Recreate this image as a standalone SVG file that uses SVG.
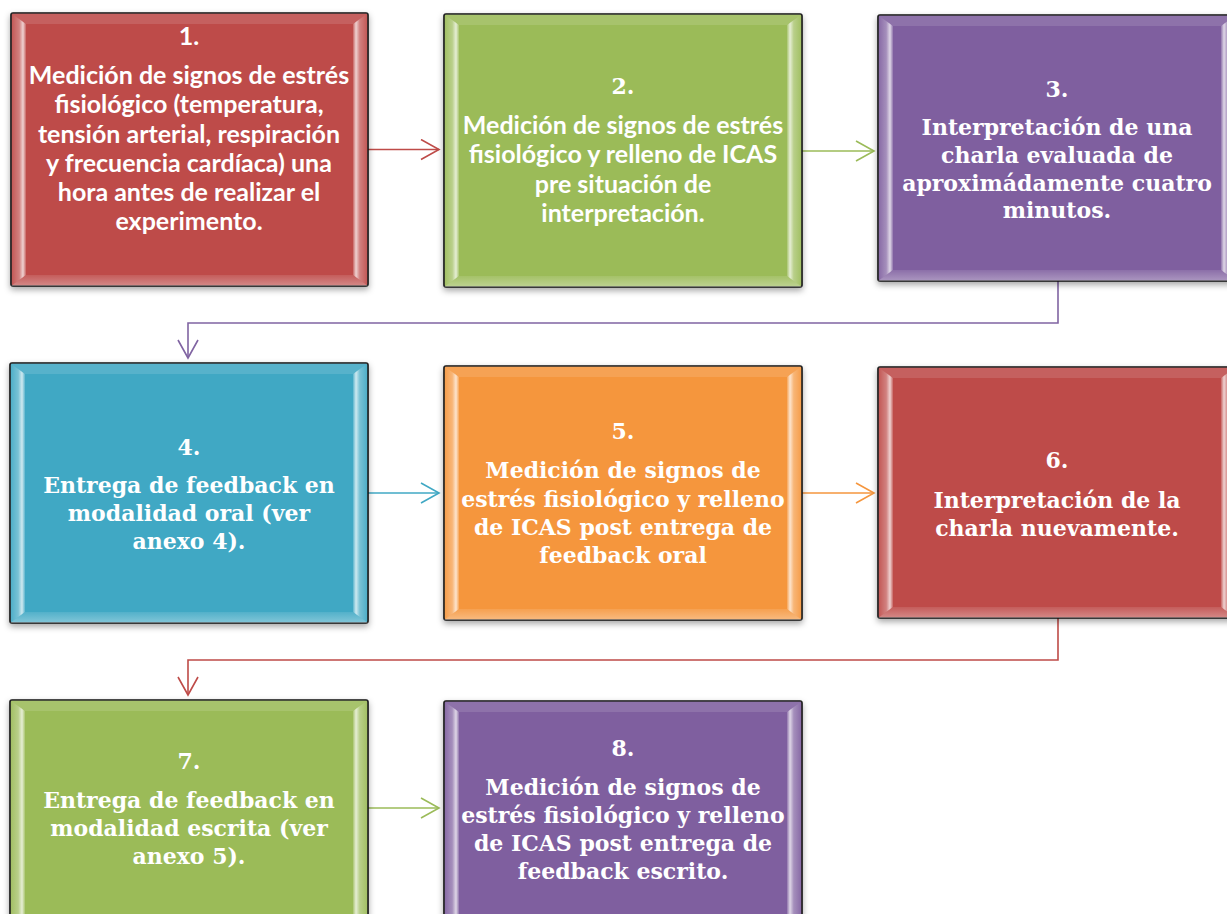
<svg xmlns="http://www.w3.org/2000/svg" width="1227" height="914" viewBox="0 0 1227 914">
<defs>
<style>
.bg{stroke:#111;stroke-width:1.6}
.lf{fill:url(#gl)}
.rf{fill:url(#gr)}
.tf{fill:#fff;fill-opacity:0.12}
.bf{fill:url(#gb)}
.sans{font-family:Lato,"Liberation Sans",sans-serif;font-weight:bold;font-size:25px;fill:#fff;text-anchor:middle}
.serif{font-family:"DejaVu Serif","Liberation Serif",serif;font-weight:bold;font-size:22px;fill:#fff;text-anchor:middle}
.con{fill:none;stroke-width:1.6}
.red{fill:#BE4B48}.green{fill:#9BBB59}.purple{fill:#7F5F9F}.blue{fill:#40A8C4}.orange{fill:#F5963E}
</style>
<linearGradient id="gl" x1="0" y1="0" x2="1" y2="0">
<stop offset="0" stop-color="#fff" stop-opacity="0.05"/>
<stop offset="0.55" stop-color="#fff" stop-opacity="0.3"/>
<stop offset="0.8" stop-color="#fff" stop-opacity="0.75"/>
<stop offset="1" stop-color="#fff" stop-opacity="0.15"/>
</linearGradient>
<linearGradient id="gr" x1="1" y1="0" x2="0" y2="0">
<stop offset="0" stop-color="#fff" stop-opacity="0.05"/>
<stop offset="0.55" stop-color="#fff" stop-opacity="0.3"/>
<stop offset="0.8" stop-color="#fff" stop-opacity="0.75"/>
<stop offset="1" stop-color="#fff" stop-opacity="0.15"/>
</linearGradient>
<linearGradient id="gb" x1="0" y1="0" x2="0" y2="1">
<stop offset="0" stop-color="#fff" stop-opacity="0.1"/>
<stop offset="1" stop-color="#fff" stop-opacity="0.35"/>
</linearGradient>
<filter id="sh" x="-5%" y="-5%" width="110%" height="115%">
<feDropShadow dx="0" dy="3" stdDeviation="3" flood-color="#000" flood-opacity="0.35"/>
</filter>
<marker id="mRed" markerUnits="userSpaceOnUse" markerWidth="22" markerHeight="24" refX="19" refY="11" orient="auto"><path d="M1,1 L19,11 L1,21" fill="none" stroke="#BE4B48" stroke-width="1.6"/></marker>
<marker id="mGreen" markerUnits="userSpaceOnUse" markerWidth="22" markerHeight="24" refX="19" refY="11" orient="auto"><path d="M1,1 L19,11 L1,21" fill="none" stroke="#9BBB59" stroke-width="1.6"/></marker>
<marker id="mPurple" markerUnits="userSpaceOnUse" markerWidth="22" markerHeight="24" refX="19" refY="11" orient="auto"><path d="M1,1 L19,11 L1,21" fill="none" stroke="#8064A2" stroke-width="1.6"/></marker>
<marker id="mBlue" markerUnits="userSpaceOnUse" markerWidth="22" markerHeight="24" refX="19" refY="11" orient="auto"><path d="M1,1 L19,11 L1,21" fill="none" stroke="#40A8C4" stroke-width="1.6"/></marker>
<marker id="mOrange" markerUnits="userSpaceOnUse" markerWidth="22" markerHeight="24" refX="19" refY="11" orient="auto"><path d="M1,1 L19,11 L1,21" fill="none" stroke="#F5963E" stroke-width="1.6"/></marker>
</defs>
<rect width="1227" height="914" fill="#fff"/>

<g id="connectors">
<line class="con" x1="368" y1="149.5" x2="439" y2="149.5" stroke="#BE4B48" marker-end="url(#mRed)"/>
<line class="con" x1="802" y1="151" x2="874" y2="151" stroke="#9BBB59" marker-end="url(#mGreen)"/>
<path class="con" d="M1058,281 V323 H188 V358" stroke="#8064A2" marker-end="url(#mPurple)"/>
<line class="con" x1="368" y1="493" x2="439" y2="493" stroke="#40A8C4" marker-end="url(#mBlue)"/>
<line class="con" x1="802" y1="493" x2="874" y2="493" stroke="#F5963E" marker-end="url(#mOrange)"/>
<path class="con" d="M1058,618 V660 H188 V695" stroke="#BE4B48" marker-end="url(#mRed)"/>
<line class="con" x1="368" y1="808" x2="439" y2="808" stroke="#9BBB59" marker-end="url(#mGreen)"/>
</g>

<g id="node1">
<rect class="bg red" x="11" y="13" width="357" height="273" rx="2" filter="url(#sh)"/>
<polygon class="lf" points="11,13 26,24 26,275 11,286"/>
<polygon class="rf" points="368,13 353,24 353,275 368,286"/>
<polygon class="tf" points="11,13 368,13 353,24 26,24"/>
<polygon class="bf" points="26,275 353,275 368,286 11,286"/>
<text class="sans" x="189" y="45">1.</text>
<text class="sans" x="189" y="84">Medición de signos de estrés</text>
<text class="sans" x="189" y="113">fisiológico (temperatura,</text>
<text class="sans" x="189" y="143">tensión arterial, respiración</text>
<text class="sans" x="189" y="172">y frecuencia cardíaca) una</text>
<text class="sans" x="189" y="201">hora antes de realizar el</text>
<text class="sans" x="189" y="230">experimento.</text>
</g>

<g id="node2">
<rect class="bg green" x="444" y="14" width="358" height="273" rx="2" filter="url(#sh)"/>
<polygon class="lf" points="444,14 459,25 459,276 444,287"/>
<polygon class="rf" points="802,14 787,25 787,276 802,287"/>
<polygon class="tf" points="444,14 802,14 787,25 459,25"/>
<polygon class="bf" points="459,276 787,276 802,287 444,287"/>
<text class="serif" x="623" y="94">2.</text>
<text class="sans" x="623" y="133.5">Medición de signos de estrés</text>
<text class="sans" x="623" y="163">fisiológico y relleno de ICAS</text>
<text class="sans" x="623" y="192.5">pre situación de</text>
<text class="sans" x="623" y="222">interpretación.</text>
</g>

<g id="node3">
<rect class="bg purple" x="878" y="15" width="358" height="266" rx="2" filter="url(#sh)"/>
<polygon class="lf" points="878,15 893,26 893,270 878,281"/>
<polygon class="rf" points="1236,15 1221,26 1221,270 1236,281"/>
<polygon class="tf" points="878,15 1236,15 1221,26 893,26"/>
<polygon class="bf" points="893,270 1221,270 1236,281 878,281"/>
<text class="serif" x="1057" y="97">3.</text>
<text class="serif" x="1057" y="135">Interpretación de una</text>
<text class="serif" x="1057" y="163">charla evaluada de</text>
<text class="serif" x="1057" y="191">aproximádamente cuatro</text>
<text class="serif" x="1057" y="218">minutos.</text>
</g>

<g id="node4">
<rect class="bg blue" x="10" y="363" width="358" height="260" rx="2" filter="url(#sh)"/>
<polygon class="lf" points="10,363 25,374 25,612 10,623"/>
<polygon class="rf" points="368,363 353,374 353,612 368,623"/>
<polygon class="tf" points="10,363 368,363 353,374 25,374"/>
<polygon class="bf" points="25,612 353,612 368,623 10,623"/>
<text class="serif" x="189" y="455">4.</text>
<text class="serif" x="189" y="493">Entrega de feedback en</text>
<text class="serif" x="189" y="521">modalidad oral (ver</text>
<text class="serif" x="189" y="549">anexo 4).</text>
</g>

<g id="node5">
<rect class="bg orange" x="444" y="366" width="358" height="254" rx="2" filter="url(#sh)"/>
<polygon class="lf" points="444,366 459,377 459,609 444,620"/>
<polygon class="rf" points="802,366 787,377 787,609 802,620"/>
<polygon class="tf" points="444,366 802,366 787,377 459,377"/>
<polygon class="bf" points="459,609 787,609 802,620 444,620"/>
<text class="serif" x="623" y="439">5.</text>
<text class="serif" x="623" y="478">Medición de signos de</text>
<text class="serif" x="623" y="507">estrés fisiológico y relleno</text>
<text class="serif" x="623" y="535">de ICAS post entrega de</text>
<text class="serif" x="623" y="563">feedback oral</text>
</g>

<g id="node6">
<rect class="bg red" x="878" y="367" width="358" height="251" rx="2" filter="url(#sh)"/>
<polygon class="lf" points="878,367 893,378 893,607 878,618"/>
<polygon class="rf" points="1236,367 1221,378 1221,607 1236,618"/>
<polygon class="tf" points="878,367 1236,367 1221,378 893,378"/>
<polygon class="bf" points="893,607 1221,607 1236,618 878,618"/>
<text class="serif" x="1057" y="468">6.</text>
<text class="serif" x="1057" y="508">Interpretación de la</text>
<text class="serif" x="1057" y="536">charla nuevamente.</text>
</g>

<g id="node7">
<rect class="bg green" x="10" y="700" width="358" height="240" rx="2" filter="url(#sh)"/>
<polygon class="lf" points="10,700 25,711 25,929 10,940"/>
<polygon class="rf" points="368,700 353,711 353,929 368,940"/>
<polygon class="tf" points="10,700 368,700 353,711 25,711"/>
<text class="serif" x="189" y="769">7.</text>
<text class="serif" x="189" y="808">Entrega de feedback en</text>
<text class="serif" x="189" y="836">modalidad escrita (ver</text>
<text class="serif" x="189" y="864">anexo 5).</text>
</g>

<g id="node8">
<rect class="bg purple" x="444" y="701" width="358" height="240" rx="2" filter="url(#sh)"/>
<polygon class="lf" points="444,701 459,712 459,930 444,941"/>
<polygon class="rf" points="802,701 787,712 787,930 802,941"/>
<polygon class="tf" points="444,701 802,701 787,712 459,712"/>
<text class="serif" x="623" y="756">8.</text>
<text class="serif" x="623" y="795">Medición de signos de</text>
<text class="serif" x="623" y="823">estrés fisiológico y relleno</text>
<text class="serif" x="623" y="851">de ICAS post entrega de</text>
<text class="serif" x="623" y="879">feedback escrito.</text>
</g>
</svg>
